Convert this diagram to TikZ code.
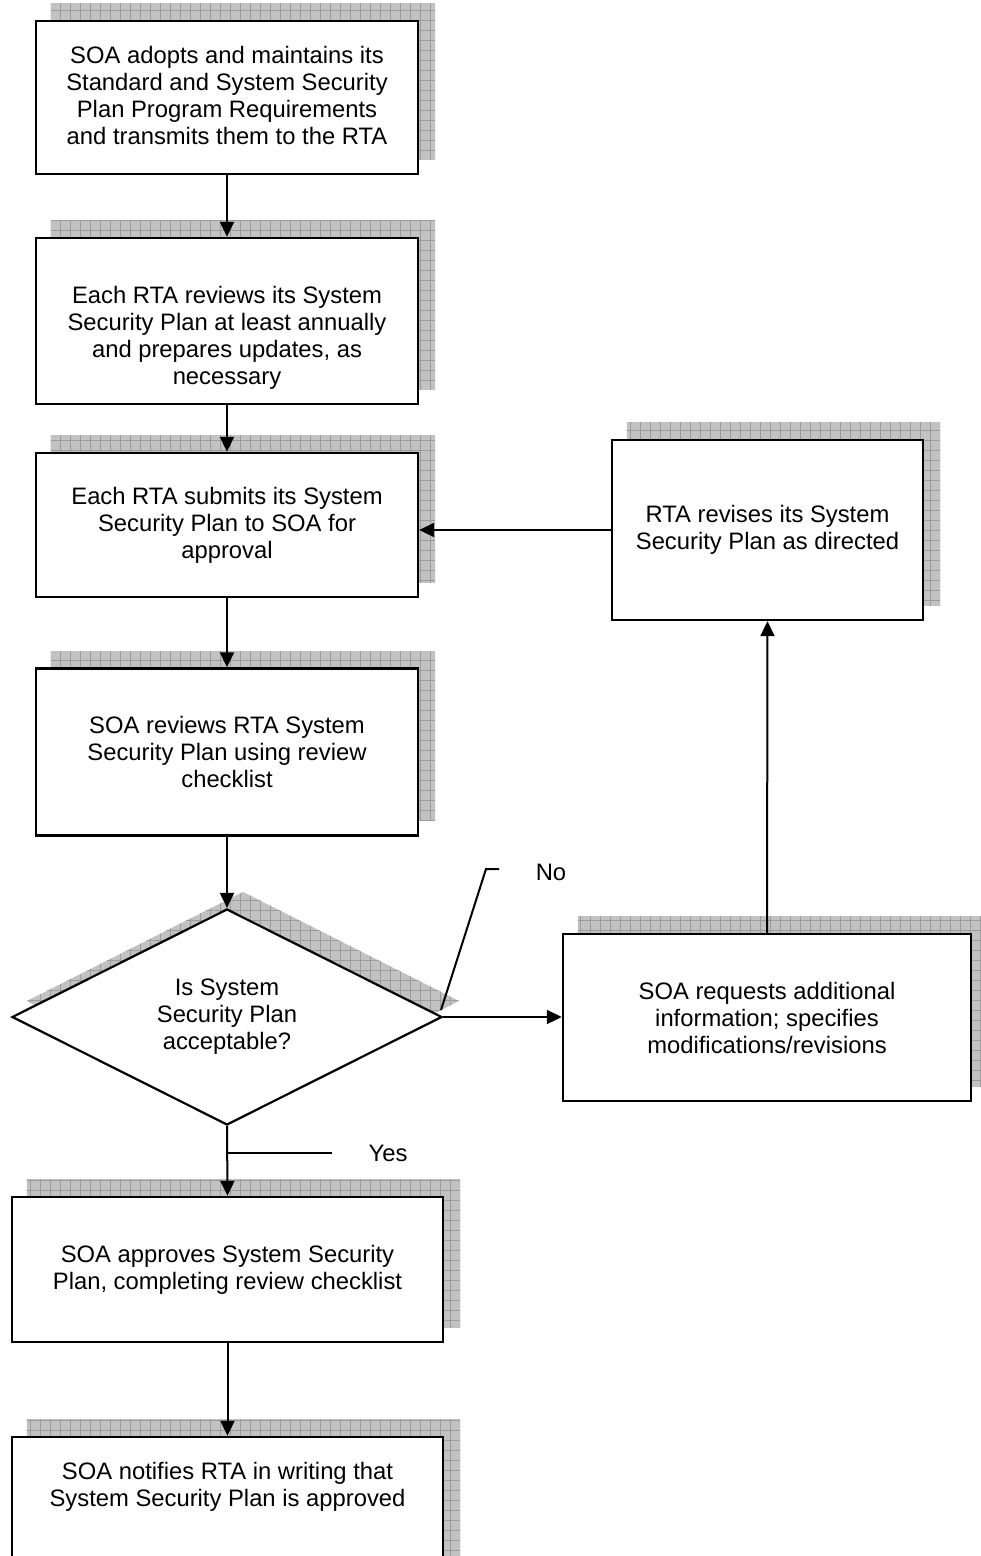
\documentclass[tikz,border=0pt]{standalone}
\usepackage{fontspec}
\setmainfont{Liberation Sans}
\usetikzlibrary{shapes.geometric,arrows.meta,backgrounds}

\definecolor{shadefill}{HTML}{C2C2C2}
\definecolor{shadegrid}{HTML}{9C9C9C}

% hatched drop shadow filling the given closed path
\newcommand{\dropshade}[1]{%
  \begin{scope}
    \clip #1;
    \fill[shadefill] (-20,-20) rectangle (1020,1640);
    \draw[shadegrid, line width=0.9pt, step=10pt] (-20,-20) grid (1020,1640);
  \end{scope}}

\tikzset{
  stepbox/.style={draw, line width=2.4pt, fill=white, inner sep=0pt, align=center},
  steptext/.style={inner sep=0pt, align=center},
  decision/.style={diamond, draw, line width=2.2pt, fill=white, inner sep=0pt, align=center},
  link/.style={line width=2pt, -{Triangle[length=15pt,width=14pt]}},
  leader/.style={line width=2pt},
  sh/.style={shift={(16,-16)}}
}

\begin{document}
\begin{tikzpicture}[x=1pt, y=-1pt, font=\fontsize{23.8}{27}\selectfont]
\useasboundingbox (0,0) rectangle (981,1556);
\clip (0,0) rectangle (981,1556);

% main column
\node[stepbox, minimum width=382, minimum height=153] (b1) at (227,97.5) {};
\node[steptext] (b1txt) at (227,95)
  {SOA adopts and maintains its\\Standard and System Security\\Plan Program Requirements\\and transmits them to the RTA};
\node[stepbox, minimum width=382, minimum height=166] (b2) at (227,321) {};
\node[steptext] (b2txt) at (227,338)
  {Each RTA reviews its System\\Security Plan at least annually\\and prepares updates, as\\necessary};
\node[stepbox, minimum width=382, minimum height=144] (b3) at (227,525)
  {Each RTA submits its System\\Security Plan to SOA for\\approval};
\node[stepbox, minimum width=382, minimum height=167] (b4) at (227,752)
  {SOA reviews RTA System\\Security Plan using review\\checklist};
\node[decision, minimum width=430, minimum height=216] (dia) at (227,1017)
  {Is System\\Security Plan\\acceptable?};
\node[stepbox, minimum width=431, minimum height=145] (b5) at (227.5,1269.5)
  {SOA approves System Security\\Plan, completing review checklist};
\node[stepbox, minimum width=431, minimum height=163] (b6) at (227.5,1518.5) {};
\node[steptext] (b6txt) at (227.5,1487)
  {SOA notifies RTA in writing that\\System Security Plan is approved};

% revision loop
\node[stepbox, minimum width=311, minimum height=180] (rev) at (767.5,530)
  {RTA revises its System\\Security Plan as directed};
\node[stepbox, minimum width=408, minimum height=167] (req) at (767,1017.5)
  {SOA requests additional\\information; specifies\\modifications/revisions};

% shadows behind every shape
\begin{scope}[on background layer]
  \foreach \n in {b1,b2,b3,b4,b5,b6,rev,req}{%
    \dropshade{([sh]\n.south west) rectangle ([sh]\n.north east)}%
  }
  \dropshade{([sh]dia.north) -- ([sh]dia.east) -- ([sh]dia.south) -- ([sh]dia.west) -- cycle}
\end{scope}

% connectors
\draw[link] (b1.south) -- (b2.north);
\draw[link] (b2.south) -- (b3.north);
\draw[link] (b3.south) -- (b4.north);
\draw[link] (b4.south) -- (dia.north);
\draw[link] (dia.south) -- (b5.north);
\draw[link] (b5.south) -- (b6.north);
\draw[link] (dia.east) -- (dia.east -| req.west);
\draw[link] (req.north) -- (rev.south);
\draw[link] (rev.west) -- (rev.west -| b3.east);

% branch labels
\coordinate (noA) at (441,1010);
\coordinate (noB) at (486,869);
\coordinate (noC) at (499,869);
\node[inner sep=0pt] (no) at (551,872) {No};
\draw[leader] (noA) -- (noB) -- (noC);

\coordinate (yesA) at (227,1153);
\coordinate (yesB) at (332,1153);
\node[inner sep=0pt] (yes) at (388,1153) {Yes};
\draw[leader] (yesA) -- (yesB);
\end{tikzpicture}
\end{document}
